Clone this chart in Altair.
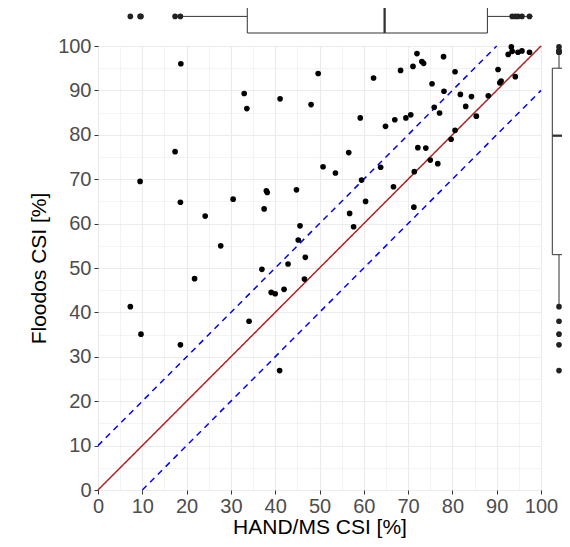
import altair as alt
import pandas as pd

# ---- data ----
hand_ms_csi = [18.7, 49.7, 33.0, 41.1, 33.6, 48.1, 17.4, 50.8, 9.5, 38.0,
               38.2, 44.8, 18.6, 30.5, 24.2, 37.5, 45.6, 45.2, 27.7, 46.8,
               42.9, 37.0, 93.3, 72.0, 78.0, 73.1, 73.5, 71.1, 68.3, 62.2,
               80.6, 92.6, 93.5, 94.8, 95.7, 97.4, 90.3, 94.2, 75.4, 78.1,
               90.7, 91.0, 81.8, 84.3, 88.1, 83.0, 85.4, 75.9, 77.1, 59.2,
               64.9, 67.0, 69.5, 70.6, 80.6, 79.7, 72.2, 74.0, 56.6, 53.6,
               63.8, 75.0, 76.7, 71.4, 59.5, 66.7, 60.4, 56.8, 57.7, 71.3,
               46.6, 21.8, 39.1, 40.0, 42.0, 7.3, 9.7, 18.6, 34.1, 41.0]
floodos_csi = [96.0, 93.8, 89.3, 88.1, 85.9, 86.8, 76.2, 72.8, 69.5, 67.4,
               67.0, 67.6, 64.8, 65.5, 61.7, 63.3, 59.5, 56.3, 55.0, 52.4,
               50.9, 49.7, 99.8, 98.3, 97.6, 96.5, 96.1, 95.4, 94.5, 92.8,
               94.2, 98.1, 98.8, 98.6, 98.9, 98.6, 94.7, 93.1, 91.5, 89.8,
               91.7, 92.1, 89.1, 88.6, 88.8, 86.4, 84.2, 86.2, 84.9, 83.8,
               81.9, 83.4, 83.8, 84.5, 81.0, 79.0, 77.1, 77.0, 76.0, 71.4,
               72.7, 74.3, 73.5, 71.7, 69.8, 68.3, 65.0, 62.3, 59.3, 63.7,
               47.5, 47.6, 44.5, 44.2, 45.2, 41.3, 35.1, 32.7, 38.0, 26.9]
# marginal box summaries: lower whisker, Q1, median, Q3, upper whisker
box_stat_names = ["lo", "q1", "med", "q3", "hi"]
hand_box_stats = [18.0, 33.7, 64.7, 87.9, 98.1]
floodos_box_stats = [41.8, 53.0, 79.8, 95.0, 100.0]
ref_offsets = [0, 10, -10]
ref_kinds = ["1:1", "+10", "-10"]
tick_values = [0, 5, 10, 15, 20, 25, 30, 35, 40, 45, 50,
               55, 60, 65, 70, 75, 80, 85, 90, 95, 100]
axis_domain = [0, 100]

points = pd.DataFrame({"x": hand_ms_csi, "y": floodos_csi})
ref_lines = pd.DataFrame({"offset": ref_offsets, "kind": ref_kinds})
hand_box = pd.DataFrame([dict(zip(box_stat_names, hand_box_stats))])
floodos_box = pd.DataFrame([dict(zip(box_stat_names, floodos_box_stats))])

# ---- layout / style ----
W, H = 443, 444
FONT = "Liberation Sans"
BOX_STROKE = "#333333"
MAJOR = "datum.value % 10 === 0"

# marginal box positions (pixels relative to plot area)
TOP_BOX_Y1, TOP_BOX_Y2, TOP_MID = -47, -13, -29.6
RIGHT_BOX_X1, RIGHT_BOX_X2, RIGHT_MID = 454.3, 480, 461
DOT_SIZE = 32


def make_axis(title, label_padding, title_padding):
    return alt.Axis(
        title=title, values=tick_values, format="d",
        labelExpr=f"{MAJOR} ? datum.label : ''",
        labelOverlap=False, labelFlush=False,
        labelFontSize=20, labelColor="#4D4D4D", labelPadding=label_padding,
        labelFont=FONT,
        tickSize=4, tickColor="#333333",
        tickOpacity={"condition": {"test": MAJOR, "value": 1}, "value": 0},
        domain=False, grid=True, gridColor="#EBEBEB",
        gridWidth={"condition": {"test": MAJOR, "value": 1.1}, "value": 0.6},
        titleFontSize=21, titleFont=FONT, titleColor="#000000",
        titleFontWeight="normal", titlePadding=title_padding,
    )


X_AX = make_axis("HAND/MS CSI [%]", 2, 0)
Y_AX = make_axis("Floodos CSI [%]", 3, 8)
xs = alt.Scale(domain=axis_domain, nice=False, zero=False)
ys = alt.Scale(domain=axis_domain, nice=False, zero=False)


def X(field):
    return alt.X(field, type="quantitative", scale=xs, axis=X_AX)


def Y(field):
    return alt.Y(field, type="quantitative", scale=ys, axis=Y_AX)


lo_d, hi_d = axis_domain
ref = alt.Chart(ref_lines).transform_calculate(
    x1=f"max({lo_d}, {lo_d} - datum.offset)",
    x2=f"min({hi_d}, {hi_d} - datum.offset)",
).transform_calculate(
    y1="datum.x1 + datum.offset",
    y2="datum.x2 + datum.offset",
).mark_rule(strokeWidth=1.5).encode(
    x=X("x1"), x2="x2:Q", y=Y("y1"), y2="y2:Q",
    color=alt.Color("kind:N", scale=alt.Scale(domain=ref_kinds,
                    range=["#B22222", "#0000FF", "#0000FF"]), legend=None),
    strokeDash=alt.StrokeDash("kind:N", scale=alt.Scale(domain=ref_kinds,
                              range=[[1, 0], [6, 5], [6, 5]]), legend=None),
)

scatter = alt.Chart(points).mark_circle(size=DOT_SIZE, color="black", opacity=1).encode(
    x=X("x"), y=Y("y")
)

base = alt.Chart(points)

# ---- top marginal (HAND/MS) ----
top_whisker = alt.Chart(hand_box).mark_rule(color=BOX_STROKE, strokeWidth=1).encode(
    x=X("lo"), x2="hi:Q", y=alt.value(TOP_MID)
)
top_box = alt.Chart(hand_box).mark_rect(fill="white", stroke=BOX_STROKE, strokeWidth=1).encode(
    x=X("q1"), x2="q3:Q", y=alt.value(TOP_BOX_Y1), y2=alt.value(TOP_BOX_Y2)
)
top_median = alt.Chart(hand_box).mark_rule(color=BOX_STROKE, strokeWidth=2.3).encode(
    x=X("med"), y=alt.value(TOP_BOX_Y1), y2=alt.value(TOP_BOX_Y2)
)
top_dots = base.transform_window(
    rx="row_number()", sort=[alt.SortField("x", order="ascending")]
).transform_joinaggregate(nx="count()").transform_filter(
    "datum.rx <= 5 || datum.rx > datum.nx - 5"
).mark_circle(size=DOT_SIZE, color="#222222", opacity=1).encode(
    x=X("x"), y=alt.value(TOP_MID)
)

# ---- right marginal (Floodos) ----
right_whisker = alt.Chart(floodos_box).mark_rule(color=BOX_STROKE, strokeWidth=1).encode(
    y=Y("lo"), y2="hi:Q", x=alt.value(RIGHT_MID)
)
right_box = alt.Chart(floodos_box).mark_rect(fill="white", stroke=BOX_STROKE, strokeWidth=1).encode(
    y=Y("q1"), y2="q3:Q", x=alt.value(RIGHT_BOX_X1), x2=alt.value(RIGHT_BOX_X2)
)
right_median = alt.Chart(floodos_box).mark_rule(color=BOX_STROKE, strokeWidth=2.3).encode(
    y=Y("med"), x=alt.value(RIGHT_BOX_X1), x2=alt.value(RIGHT_BOX_X2)
)
right_dots = base.transform_window(
    ry="row_number()", sort=[alt.SortField("y", order="ascending")]
).transform_joinaggregate(ny="count()").transform_filter(
    "datum.ry <= 5 || datum.ry > datum.ny - 5"
).mark_circle(size=DOT_SIZE, color="#222222", opacity=1).encode(
    y=Y("y"), x=alt.value(RIGHT_MID)
)

chart = alt.layer(
    ref, scatter,
    top_whisker, top_box, top_median, top_dots,
    right_whisker, right_box, right_median, right_dots,
).properties(
    width=W, height=H,
    autosize=alt.AutoSizeParams(type="none"),
    padding={"left": 90, "top": 38, "right": 21, "bottom": 49},
    background="white",
).configure(font=FONT).configure_view(stroke="#555555", strokeWidth=1)

chart.save("out.html", embed_options={"renderer": "svg", "actions": False})
